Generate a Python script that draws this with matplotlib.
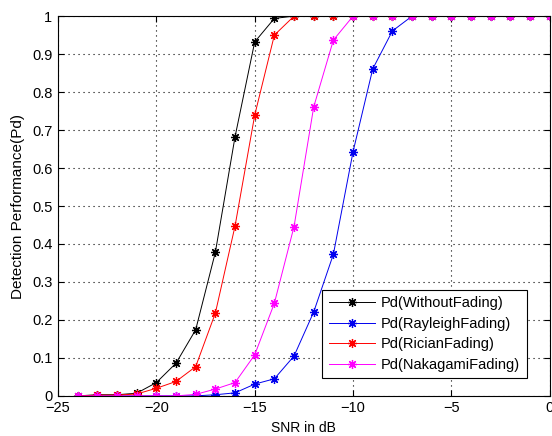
import matplotlib
matplotlib.use("Agg")
from matplotlib import pyplot as plt

plt.rcParams['font.family'] = ['Liberation Sans', 'DejaVu Sans']

snr = list(range(-24, 1))
pd_without = [0.0, 0.003, 0.003, 0.007, 0.035, 0.086, 0.174, 0.378, 0.682, 0.932, 0.994,
              1, 1, 1, 1, 1, 1, 1, 1, 1, 1, 1, 1, 1, 1]
pd_rayleigh = [0, 0, 0, 0, 0, 0, 0, 0.003, 0.008, 0.031, 0.045, 0.105, 0.221, 0.373, 0.643,
               0.861, 0.961, 1, 1, 1, 1, 1, 1, 1, 1]
pd_rician = [0.0, 0.002, 0.002, 0.005, 0.02, 0.038, 0.077, 0.218, 0.447, 0.739, 0.95,
             1, 1, 1, 1, 1, 1, 1, 1, 1, 1, 1, 1, 1, 1]
pd_nakagami = [0, 0, 0, 0, 0, 0, 0.004, 0.018, 0.035, 0.108, 0.244, 0.446, 0.761, 0.937,
               1, 1, 1, 1, 1, 1, 1, 1, 1, 1, 1]
labels = ['Pd(WithoutFading)', 'Pd(RayleighFading)', 'Pd(RicianFading)', 'Pd(NakagamiFading)']

# matlab style asterisk
star = (8, 2, 0)

fig = plt.figure(figsize=(5.52, 4.36), dpi=100)
ax = fig.add_axes([0.105, 0.092, 0.891, 0.871])

ax.plot(snr, pd_without, '-', marker=star, color='k', lw=0.7, ms=6.5, mew=0.9, label=labels[0])
ax.plot(snr, pd_rayleigh, '-', marker=star, color='#0000ee', lw=0.7, ms=6.5, mew=0.9, label=labels[1])
ax.plot(snr, pd_rician, '-', marker=star, color='r', lw=0.7, ms=6.5, mew=0.9, label=labels[2])
ax.plot(snr, pd_nakagami, '-', marker=star, color='#ff00ff', lw=0.7, ms=6.5, mew=0.9, label=labels[3])

ax.set_xlim(-25, 0)
ax.set_ylim(0, 1)
ax.set_xticks(range(-25, 1, 5))
ax.set_yticks([i / 10 for i in range(11)])
ax.set_yticklabels(['0', '0.1', '0.2', '0.3', '0.4', '0.5', '0.6', '0.7', '0.8', '0.9', '1'])
ax.grid(True, color='k', linestyle=(0, (1, 3.5)), linewidth=0.8)
ax.tick_params(direction='in', top=True, right=True, labelsize=10.5, length=4, pad=4)
ax.set_xlabel('SNR in dB', fontsize=10, labelpad=4)
ax.set_ylabel('Detection Performance(Pd)', fontsize=11, labelpad=5)

leg = ax.legend(loc='lower right', fontsize=10.5, fancybox=False, edgecolor='k',
                framealpha=1, borderpad=0.45, handlelength=3.2, labelspacing=0.45,
                handletextpad=0.4, bbox_to_anchor=(0.968, 0.027))
leg.get_frame().set_linewidth(0.8)

fig.savefig('out.png', dpi=100)
